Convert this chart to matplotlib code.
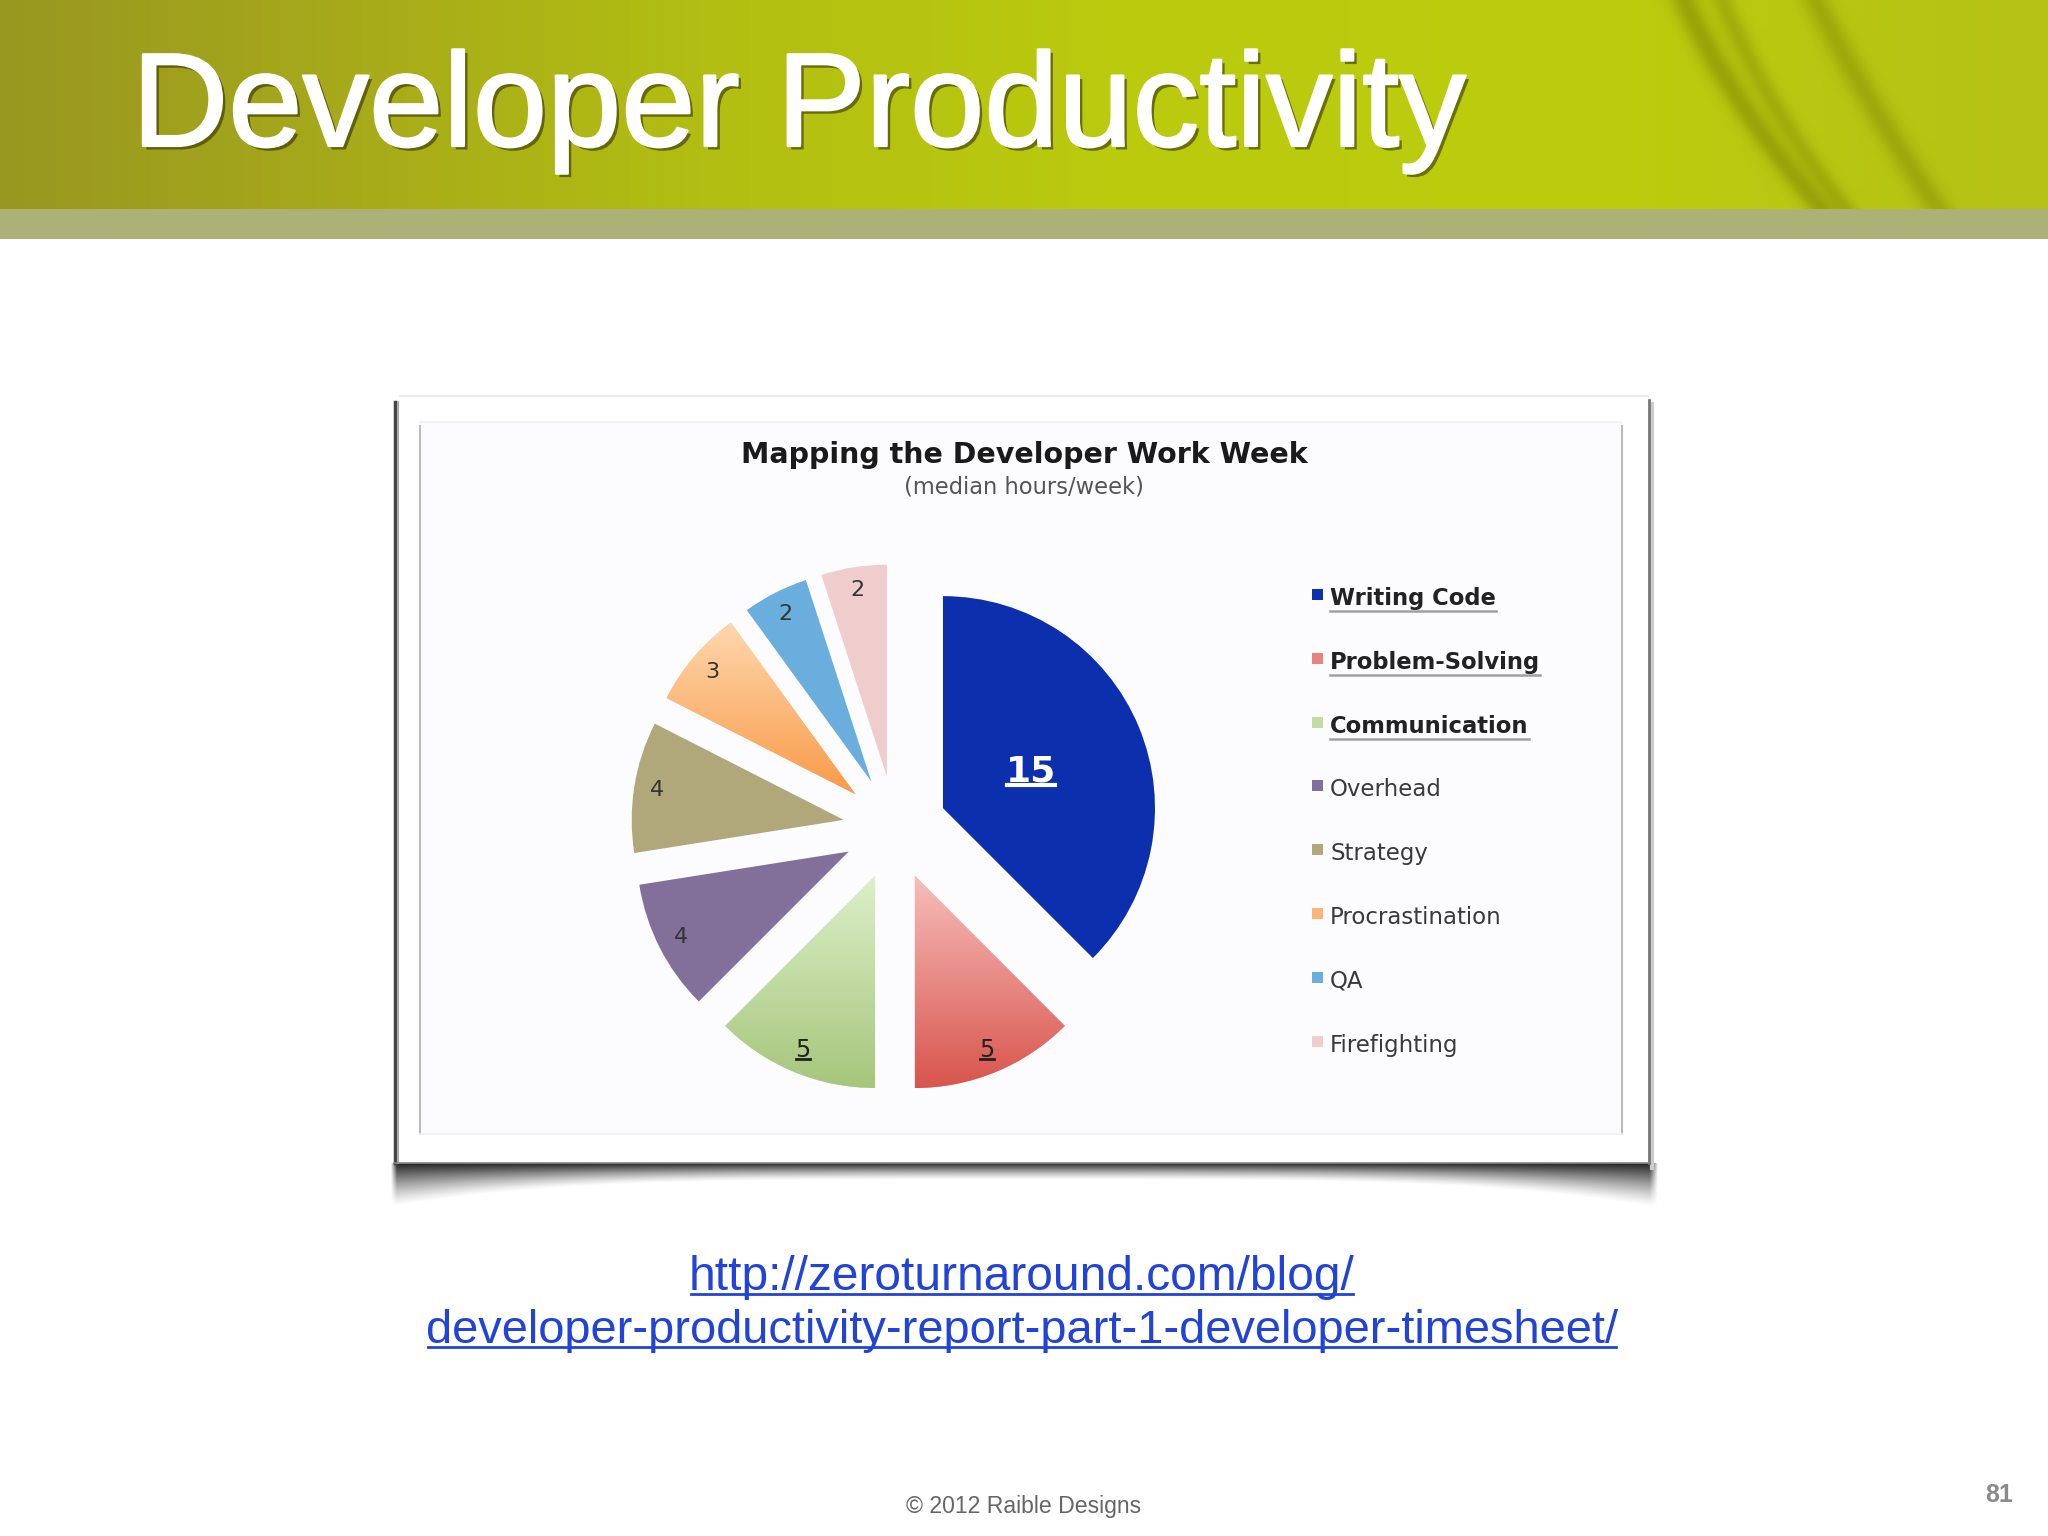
import numpy as np
import matplotlib
matplotlib.use("Agg")
import matplotlib.pyplot as plt
from matplotlib import patheffects as pe
from matplotlib.patches import Rectangle
from matplotlib.lines import Line2D

# ---------------- data ----------------
slide_title = "Developer Productivity"
chart_title = "Mapping the Developer Work Week"
chart_subtitle = "(median hours/week)"
categories = ["Writing Code", "Problem-Solving", "Communication", "Overhead",
              "Strategy", "Procrastination", "QA", "Firefighting"]
hours = [15, 5, 5, 4, 4, 3, 2, 2]
highlighted = [True, True, True, False, False, False, False, False]
url_lines = ["http://zeroturnaround.com/blog/",
             "developer-productivity-report-part-1-developer-timesheet/"]
footer_text = "\u00a9 2012 Raible Designs"
page_number = "81"

# ---------------- styles ----------------
slice_colors = ["#0C2FAE", "#E9837E", "#C2DCA2", "#83709A",
                "#B0A77B", "#FCB574", "#6AAEDD", "#EFCDCD"]
grad_top = {1: "#F7BDBB", 2: "#DDEFCA", 5: "#FFD7AE"}
grad_bot = {1: "#D8554D", 2: "#A6C67B", 5: "#F89B48"}

W, H = 2048, 1536
fig = plt.figure(figsize=(W / 100, H / 100), dpi=100)
fig.patch.set_facecolor("white")

bg = fig.add_axes([0, 0, 1, 1])
bg.set_xlim(0, W)
bg.set_ylim(H, 0)
bg.axis("off")

# ---------------- header ----------------
Hh = 209
xg = np.arange(W) + 0.5
yg = np.arange(Hh) + 0.5
X, Y = np.meshgrid(xg, yg)
hx = [0, 300, 700, 1100, 1600, 2048]
hcols = [(152, 151, 32), (165, 167, 27), (178, 190, 18), (186, 202, 14),
         (188, 205, 13), (180, 193, 22)]
base = np.stack([np.interp(xg, hx, [c[k] for c in hcols]) for k in range(3)], -1) / 255
img = np.repeat(base[None, :, :], Hh, 0)


def arc(p0, p1, p2, w, a):
    coef = np.polyfit([0, 104, 209], [p0, p1, p2], 2)
    xc = np.polyval(coef, Y)
    return a * np.exp(-((X - xc) / w) ** 2)


dark = (arc(1684, 1742, 1822, 15, 0.50) + arc(1722, 1774, 1846, 12, 0.36)
        + arc(1815, 1872, 1938, 15, 0.40))
dark = np.clip(dark, 0, 0.6)
darkcol = np.array([0.47, 0.50, 0.0])
img = img * (1 - dark[..., None]) + darkcol * dark[..., None]
bg.imshow(img, extent=(0, W, Hh, 0), aspect="auto", interpolation="bilinear", zorder=0)
bg.add_patch(Rectangle((0, Hh), W, 30, facecolor="#ACB176", edgecolor="none", zorder=0))

bg.text(132, 146, slide_title, fontsize=96, family="Liberation Sans", color="white",
        ha="left", va="baseline", zorder=5,
        path_effects=[pe.withStroke(linewidth=5, foreground="#303000", alpha=0.18,
                                    offset=(2, -2.5)) if False else
                      pe.SimplePatchShadow(offset=(2.5, -2.5), shadow_rgbFace="#262600", alpha=0.55),
                      pe.Stroke(linewidth=1.6, foreground="white"),
                      pe.Normal()])

# ---------------- card ----------------
cx0, cy0, cx1, cy1 = 394, 396, 1648, 1163
sx0, sx1, sy0, sy1 = 388, 1662, cy1, 1215
SX, SY = np.meshgrid(np.arange(sx0, sx1) + 0.5, np.arange(sy0, sy1) + 0.5)
u = (SX - (cx0 + cx1) / 2) / ((cx1 - cx0) / 2)
depth = 17 + 27 * np.clip(np.abs(u), 0, 1) ** 4
t = (SY - sy0) / depth
a = np.clip(1 - t, 0, 1) ** 1.3 * 0.93
a *= np.clip((SX - 391) / 6, 0, 1) * np.clip((1658 - SX) / 8, 0, 1)
rgba = np.zeros(SX.shape + (4,))
rgba[..., :3] = 0.07
rgba[..., 3] = a
bg.imshow(rgba, extent=(sx0, sx1, sy1, sy0), aspect="auto", interpolation="bilinear", zorder=1)

bg.add_patch(Rectangle((cx0, cy0), cx1 - cx0, cy1 - cy0, facecolor="white",
                       edgecolor="none", zorder=2))
bg.add_line(Line2D([cx0 + 1, cx0 + 1], [cy0 + 6, cy1], color="#444444", lw=2.5, zorder=3))
bg.add_line(Line2D([cx0 + 3.5, cx0 + 3.5], [cy0 + 6, cy1], color="#AAAAAA", lw=1.5, zorder=3))
bg.add_line(Line2D([cx1 + 1, cx1 + 1], [cy0 + 4, cy1], color="#777777", lw=2, zorder=3))
bg.add_line(Line2D([cx1 + 4, cx1 + 4], [cy0 + 8, cy1 + 5], color="#CCCCCC", lw=3, zorder=1.5))
bg.add_line(Line2D([cx0 + 6, cx1], [cy0, cy0], color="#E6E6E6", lw=1.2, zorder=3))
bg.add_line(Line2D([cx0, cx1], [cy1, cy1], color="#888888", lw=1.2, zorder=3))

ix0, iy0, ix1, iy1 = 420, 422, 1622, 1134
bg.add_patch(Rectangle((ix0, iy0), ix1 - ix0, iy1 - iy0, facecolor="#FCFBFE",
                       edgecolor="none", zorder=3))
bg.add_line(Line2D([ix0, ix0], [iy0 + 4, iy1], color="#BBBBBB", lw=1.5, zorder=4))
bg.add_line(Line2D([ix1, ix1], [iy0 + 4, iy1], color="#BBBBBB", lw=1.5, zorder=4))
bg.add_line(Line2D([ix0, ix1], [iy0, iy0], color="#F0F0F0", lw=1.2, zorder=4))
bg.add_line(Line2D([ix0, ix1], [iy1, iy1], color="#F0F0F0", lw=1.2, zorder=4))

bg.text(1024, 463, chart_title, fontsize=20.5, fontweight="bold", family="DejaVu Sans",
        color="#1a1a1a", ha="center", va="baseline", zorder=5)
bg.text(1024, 493, chart_subtitle, fontsize=16.3, family="DejaVu Sans",
        color="#555555", ha="center", va="baseline", zorder=5)

# ---------------- pie ----------------
pcx, pcy, pr = 895, 828, 212
half = 1.5 * pr
pax = fig.add_axes([(pcx - half) / W, (H - pcy - half) / H, 2 * half / W, 2 * half / H])
pax.set_zorder(6)
pax.patch.set_visible(False)
wedges, _ = pax.pie(hours, colors=slice_colors, startangle=90, counterclock=False,
                    explode=[0.245] * len(hours), radius=1.0,
                    wedgeprops=dict(linewidth=0))
for i, w in enumerate(wedges):
    if i in grad_top:
        verts = w.get_patch_transform().transform(w.get_path().vertices)
        xmn, xmx = verts[:, 0].min(), verts[:, 0].max()
        ymn, ymx = verts[:, 1].min(), verts[:, 1].max()
        c_top = np.array(matplotlib.colors.to_rgb(grad_top[i]))
        c_bot = np.array(matplotlib.colors.to_rgb(grad_bot[i]))
        f = np.linspace(0, 1, 256)[:, None, None]
        garr = c_top[None, None, :] * (1 - f) + c_bot[None, None, :] * f
        im = pax.imshow(garr, extent=(xmn, xmx, ymn, ymx), origin="upper",
                        aspect="auto", interpolation="bilinear", zorder=2)
        im.set_clip_path(w)
pax.set_xlim(-1.5, 1.5)
pax.set_ylim(-1.5, 1.5)
pax.set_aspect("equal")
pax.axis("off")

pie_texts = []
for i, (w, v) in enumerate(zip(wedges, hours)):
    ang = np.deg2rad((w.theta1 + w.theta2) / 2)
    dist = 0.45 if i == 0 else 0.89
    x = w.center[0] + dist * w.r * np.cos(ang)
    y = w.center[1] + dist * w.r * np.sin(ang)
    if i == 0:
        txt = pax.text(x, y, str(v), fontsize=26, fontweight="bold", color="white",
                       ha="center", va="center", family="DejaVu Sans", zorder=5)
    elif highlighted[i]:
        txt = pax.text(x, y, str(v), fontsize=17, color="#222222",
                       ha="center", va="center", family="DejaVu Sans", zorder=5)
    else:
        txt = pax.text(x, y, str(v), fontsize=16, color="#333333",
                       ha="center", va="center", family="DejaVu Sans", zorder=5)
    pie_texts.append((txt, highlighted[i]))

# ---------------- legend ----------------
leg_x, leg_y0, leg_dy = 1312, 605, 63.8
leg_texts = []
for i, (cat, col) in enumerate(zip(categories, slice_colors)):
    yb = leg_y0 + i * leg_dy
    bg.add_patch(Rectangle((leg_x, yb - 16), 11, 11, facecolor=col, edgecolor="none", zorder=5))
    if highlighted[i]:
        tt = bg.text(leg_x + 18, yb, cat, fontsize=16.3, fontweight="bold",
                     family="DejaVu Sans", color="#222222", ha="left", va="baseline", zorder=5)
        leg_texts.append((tt, yb))
    else:
        bg.text(leg_x + 18, yb, cat, fontsize=16.5, family="DejaVu Sans",
                color="#3a3a3a", ha="left", va="baseline", zorder=5)

# ---------------- URL + footer ----------------
url_color = "#2143D8"
url_base = [1290, 1343]
url_sizes = [34.5, 33.8]
url_texts = []
for line, yb, fs in zip(url_lines, url_base, url_sizes):
    tt = bg.text(1022, yb, line, fontsize=fs, family="Liberation Sans", color=url_color,
                 ha="center", va="baseline", zorder=5)
    url_texts.append((tt, yb))

bg.text(1024, 1513, footer_text, fontsize=16.6, family="Liberation Sans", color="#666666",
        ha="center", va="baseline", zorder=5)
bg.text(2013, 1502, page_number, fontsize=18, fontweight="bold", family="Liberation Sans",
        color="#8a8a8a", ha="right", va="baseline", zorder=5)

# ---------------- underlines (from rendered text extents) ----------------
fig.canvas.draw()
rend = fig.canvas.get_renderer()
for tt, yb in leg_texts:
    bb = tt.get_window_extent(rend)
    bg.add_line(Line2D([bb.x0, bb.x1], [yb + 6, yb + 6], color="#A0A0A0", lw=1.8, zorder=5))
for tt, yb in url_texts:
    bb = tt.get_window_extent(rend)
    bg.add_line(Line2D([bb.x0 + 2, bb.x1 - 2], [yb + 4, yb + 4], color=url_color, lw=2, zorder=5))
inv = pax.transData.inverted()
for tt, hl in pie_texts:
    if not hl:
        continue
    bb = tt.get_window_extent(rend)
    ydisp = bb.y0 + 0.12 * bb.height
    (xa, ya), (xb, _) = inv.transform([(bb.x0 + 1, ydisp), (bb.x1 - 1, ydisp)])
    col = tt.get_color()
    pax.add_line(Line2D([xa, xb], [ya, ya], color=col,
                        lw=3 if col == "white" else 2, zorder=6))

bg.set_xlim(0, W)
bg.set_ylim(H, 0)
pax.set_xlim(-1.5, 1.5)
pax.set_ylim(-1.5, 1.5)
fig.savefig("out.png", dpi=100, facecolor="white")
